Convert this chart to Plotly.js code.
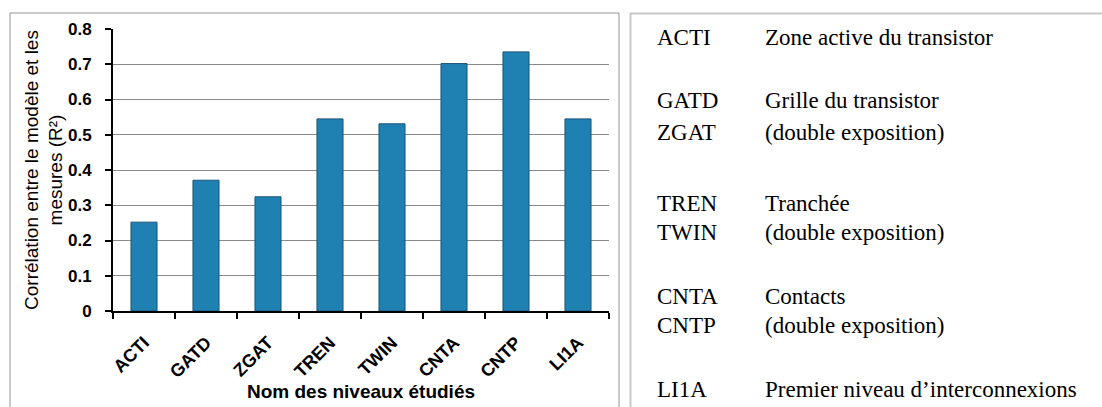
<!DOCTYPE html>
<html>
<head>
<meta charset="utf-8">
<script src="https://cdn.plot.ly/plotly-3.0.1.min.js"></script>
<style>
  html, body { margin: 0; padding: 0; background: #ffffff; }
  #chart { width: 1102px; height: 407px; }
</style>
</head>
<body>
<div id="chart"></div>
<script>
// ---- Data ----
const categories = ["ACTI", "GATD", "ZGAT", "TREN", "TWIN", "CNTA", "CNTP", "LI1A"];
const r2Values = [0.252, 0.371, 0.324, 0.545, 0.531, 0.702, 0.735, 0.545];
const yTickValues = [0, 0.1, 0.2, 0.3, 0.4, 0.5, 0.6, 0.7, 0.8];
const yTickLabels = ["0", "0.1", "0.2", "0.3", "0.4", "0.5", "0.6", "0.7", "0.8"];
const tableCodes = ["ACTI", "GATD", "ZGAT", "TREN", "TWIN", "CNTA", "CNTP", "LI1A"];
const tableDescriptions = [
  "Zone active du transistor",
  "Grille du transistor",
  "(double exposition)",
  "Tranchée",
  "(double exposition)",
  "Contacts",
  "(double exposition)",
  "Premier niveau d\u2019interconnexions"
];
const yTitle = "Corrélation entre le modèle et les<br>mesures (R²)";
const xTitle = "Nom des niveaux étudiés";

// ---- Layout geometry (pixels) ----
const W = 1102, H = 407;
const M = { l: 113, r: 493, t: 29, b: 96 };
const plotW = W - M.l - M.r, plotH = H - M.t - M.b;
const px = x => (x - M.l) / plotW;
const py = y => (H - M.b - y) / plotH;

const rowY = [37, 100, 132, 203, 233, 296, 325, 389];
const codeX = 655, descX = 763;

const sans = "Liberation Sans, Arial, sans-serif";
const serif = "Liberation Serif, Times New Roman, serif";

const annotations = [];
tableCodes.forEach((c, i) => {
  annotations.push({
    xref: "paper", yref: "paper", x: px(codeX), y: py(rowY[i]),
    xanchor: "left", yanchor: "middle", showarrow: false, text: c,
    font: { family: serif, size: 23, color: "#000" }
  });
  annotations.push({
    xref: "paper", yref: "paper", x: px(descX), y: py(rowY[i]),
    xanchor: "left", yanchor: "middle", showarrow: false, text: tableDescriptions[i],
    font: { family: serif, size: 23, color: "#000" }
  });
});

const shapes = [
  { type: "rect", xref: "paper", yref: "paper", x0: px(10), x1: px(619), y0: py(13), y1: py(430),
    line: { color: "#959595", width: 1 }, fillcolor: "rgba(0,0,0,0)", layer: "below" },
  { type: "rect", xref: "paper", yref: "paper", x0: px(630.5), x1: px(1130), y0: py(13.5), y1: py(430),
    line: { color: "#c8c8c8", width: 2 }, fillcolor: "rgba(0,0,0,0)", layer: "below" }
];

const trace = {
  type: "bar",
  x: categories,
  y: r2Values,
  width: 0.42,
  marker: { color: "#1f80b2", line: { color: "#1a5478", width: 1 } },
  hoverinfo: "x+y"
};

const layout = {
  width: W, height: H,
  margin: M,
  paper_bgcolor: "#ffffff",
  plot_bgcolor: "#ffffff",
  showlegend: false,
  xaxis: {
    type: "category",
    showline: true, linecolor: "#000", linewidth: 2,
    ticks: "outside", tickson: "boundaries", ticklen: 6, tickwidth: 2, tickcolor: "#000",
    tickangle: -45,
    ticklabelstandoff: 12,
    tickfont: { family: sans, size: 18, color: "#000", weight: "bold" },
    showgrid: false, zeroline: false,
    title: { text: xTitle, standoff: 4, font: { family: sans, size: 19, color: "#000", weight: "bold" } }
  },
  yaxis: {
    range: [0, 0.8],
    tickvals: yTickValues, ticktext: yTickLabels,
    showline: true, linecolor: "#000", linewidth: 2,
    ticks: "outside", ticklen: 6, tickwidth: 2, tickcolor: "#000",
    ticklabelstandoff: 10,
    tickfont: { family: sans, size: 17, color: "#000", weight: "bold" },
    showgrid: true, gridcolor: "#8a8a8a", gridwidth: 1,
    zeroline: false,
    title: { text: yTitle, standoff: 0, font: { family: sans, size: 19, color: "#000" } }
  },
  bargap: 0.58,
  annotations: annotations,
  shapes: shapes
};

Plotly.newPlot("chart", [trace], layout, { staticPlot: true, displayModeBar: false });
</script>
</body>
</html>
